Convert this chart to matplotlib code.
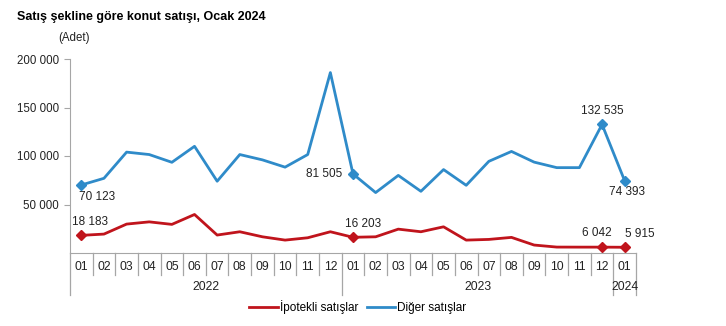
import matplotlib.pyplot as plt
from matplotlib.transforms import blended_transform_factory

plt.rcParams["font.family"] = ["Liberation Sans", "DejaVu Sans"]

months = ["01", "02", "03", "04", "05", "06", "07", "08", "09", "10", "11", "12",
          "01", "02", "03", "04", "05", "06", "07", "08", "09", "10", "11", "12",
          "01"]
years = ["2022", "2023", "2024"]
year_lengths = [12, 12, 1]

ipotekli = [18183, 19500, 29800, 32100, 29500, 39700, 18500, 21900, 16700, 13300, 15700, 21900,
            16203, 16700, 24600, 21900, 27000, 13300, 14000, 16100, 8200, 6100, 6050, 6042,
            5915]
diger = [70123, 77000, 104000, 101500, 93500, 110000, 74000, 101500, 96000, 88500, 101500, 186000,
         81505, 62300, 80000, 63600, 86000, 69800, 94500, 104700, 93700, 88000, 88000, 132535,
         74393]

# (index, text, offset in points, ha, va)
labels_red = [(0, "18 183", (6, 5), "center", "bottom"), (12, "16 203", (7, 5), "center", "bottom"),
              (23, "6 042", (-4, 6), "center", "bottom"), (24, "5 915", (0, 5), "left", "bottom")]
labels_blue = [(0, "70 123", (-2, -4), "left", "top"), (12, "81 505", (-8, 0), "right", "center"),
               (23, "132 535", (0, 5), "center", "bottom"), (24, "74 393", (2, -4), "center", "top")]

RED = "#c0141c"
BLUE = "#2f8bc9"
GRAY = "#a6a6a6"
TXT = "#222222"

fig = plt.figure(figsize=(7.26, 3.26), dpi=100)
ax = fig.add_axes([70 / 726, 73 / 326, 566 / 726, 194 / 326])

x = list(range(len(months)))
ax.plot(x, ipotekli, color=RED, lw=2.0, label="İpotekli satışlar")
ax.plot(x, diger, color=BLUE, lw=2.0, label="Diğer satışlar")

for idx, txt, off, ha, va in labels_red:
    ax.plot(idx, ipotekli[idx], marker="D", ms=5, color=RED)
    ax.annotate(txt, (idx, ipotekli[idx]), xytext=off, textcoords="offset points",
                ha=ha, va=va, fontsize=8.5, color=TXT)
for idx, txt, off, ha, va in labels_blue:
    ax.plot(idx, diger[idx], marker="D", ms=5, color=BLUE)
    ax.annotate(txt, (idx, diger[idx]), xytext=off, textcoords="offset points",
                ha=ha, va=va, fontsize=8.5, color=TXT)

ax.set_xlim(-0.5, len(months) - 0.5)
ax.set_ylim(0, 200000)
ax.set_yticks([50000, 100000, 150000, 200000])
ax.set_yticklabels(["50 000", "100 000", "150 000", "200 000"], fontsize=8.3, color=TXT)
ax.tick_params(axis="y", length=4, color=GRAY, pad=4)
ax.set_xticks([])

for side in ["top", "right"]:
    ax.spines[side].set_visible(False)
ax.spines["left"].set_color(GRAY)
ax.spines["bottom"].set_color(GRAY)

# category axis with month and year rows
trans = blended_transform_factory(ax.transData, ax.transAxes)
month_h = 22 / 194
year_h = 42 / 194
for i, m in enumerate(months):
    ax.text(i, -14 / 194, m, transform=trans, ha="center", va="center", fontsize=8.7, color=TXT)
boundaries = [-0.5]
for n in year_lengths:
    boundaries.append(boundaries[-1] + n)
for i in range(len(months) + 1):
    b = i - 0.5
    h = year_h if b in boundaries else month_h
    ax.plot([b, b], [0, -h], transform=trans, color=GRAY, lw=0.9, clip_on=False)
for k, yr in enumerate(years):
    mid = (boundaries[k] + boundaries[k + 1]) / 2
    ax.text(mid, -34 / 194, yr, transform=trans, ha="center", va="center", fontsize=8.7, color=TXT)

fig.text(17 / 726, 1 - 17 / 326, "Satış şekline göre konut satışı, Ocak 2024",
         fontsize=9, fontweight="bold", va="center", ha="left")
fig.text(58 / 726, 1 - 38 / 326, "(Adet)", fontsize=8.3, va="center", ha="left", color=TXT)

fig.legend(loc="center", bbox_to_anchor=(358 / 726, 1 - 307 / 326), ncol=2, frameon=False,
           fontsize=8.5, handlelength=2.4, handletextpad=0.2, columnspacing=0.7)

fig.savefig("out.png", dpi=100)
